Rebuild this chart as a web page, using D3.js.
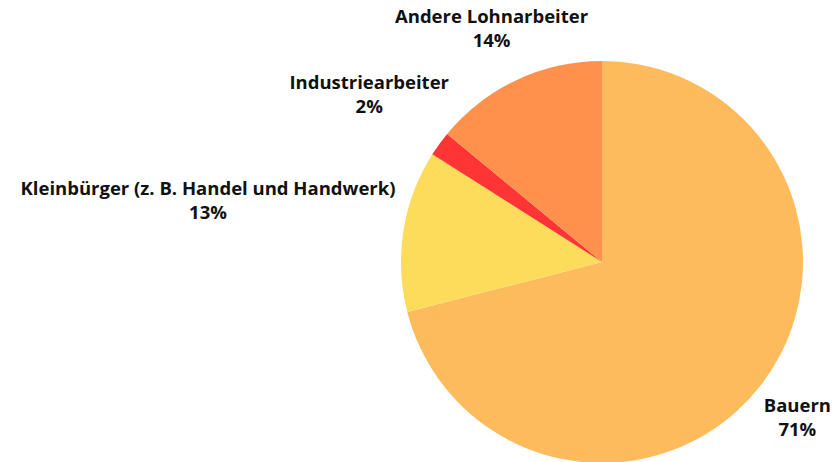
<!DOCTYPE html>
<html>
<head>
<meta charset="utf-8">
<script src="https://cdn.jsdelivr.net/npm/d3@7"></script>
<style>
  html, body { margin: 0; padding: 0; background: #fff; }
  svg { display: block; }
</style>
</head>
<body>
<svg id="chart" width="834" height="462"></svg>
<script>
const categories = ["Bauern", "Kleinbürger (z. B. Handel und Handwerk)", "Industriearbeiter", "Andere Lohnarbeiter"];
const values = [71, 13, 2, 14];
const valueLabels = ["71%", "13%", "2%", "14%"];
const colors = ["#FDBB5C", "#FDDC5C", "#FF3535", "#FF914D"];

const W = 834, H = 462;
const cx = 602, cy = 262, R = 201;
const labelPad = 9;
const edgeMargin = 3;
const fontFamily = "'Open Sans', Lato, sans-serif";
const fontSize = 18.5;
const lineGap = 24;

const svg = d3.select("#chart");
const g = svg.append("g").attr("transform", `translate(${cx},${cy})`);

const pie = d3.pie().value(d => d.v).sort(null);
const data = categories.map((c, i) => ({ c, v: values[i], lab: valueLabels[i], col: colors[i] }));
const arcs = pie(data);
const arc = d3.arc().innerRadius(0).outerRadius(R);

g.selectAll("path.slice").data(arcs).join("path")
  .attr("class", "slice")
  .attr("d", arc)
  .attr("fill", d => d.data.col);

const labels = g.selectAll("g.lab").data(arcs).join("g").attr("class", "lab");
labels.each(function(d) {
  const sel = d3.select(this);
  const t = sel.append("text")
    .attr("text-anchor", "middle")
    .attr("font-family", fontFamily)
    .attr("font-weight", 700)
    .attr("font-size", fontSize)
    .attr("fill", "#111");
  t.append("tspan").attr("x", 0).attr("y", 0).text(d.data.c);
  t.append("tspan").attr("x", 0).attr("y", lineGap).text(d.data.lab);
  const bb = t.node().getBBox();
  const bcx = bb.x + bb.width / 2, bcy = bb.y + bb.height / 2;
  const hw = bb.width / 2, hh = bb.height / 2;
  const mid = (d.startAngle + d.endAngle) / 2;
  const dx = Math.sin(mid), dy = -Math.cos(mid);
  const clearR = R + labelPad;
  function nearestDist(tt) {
    const x = dx * tt, y = dy * tt;
    const nx = Math.max(x - hw, Math.min(0, x + hw));
    const ny = Math.max(y - hh, Math.min(0, y + hh));
    return Math.hypot(nx, ny);
  }
  let lo = 0, hi = 1000;
  for (let k = 0; k < 60; k++) {
    const m = (lo + hi) / 2;
    if (nearestDist(m) < clearR) lo = m; else hi = m;
  }
  let px = dx * hi, py = dy * hi;
  // keep the box inside the drawing
  const minX = -cx + edgeMargin + hw, maxX = W - cx - edgeMargin - hw;
  const minY = -cy + edgeMargin + hh, maxY = H - cy - edgeMargin - hh;
  px = Math.max(minX, Math.min(maxX, px));
  py = Math.max(minY, Math.min(maxY, py));
  sel.attr("transform", `translate(${px - bcx},${py - bcy})`);
});
</script>
</body>
</html>
